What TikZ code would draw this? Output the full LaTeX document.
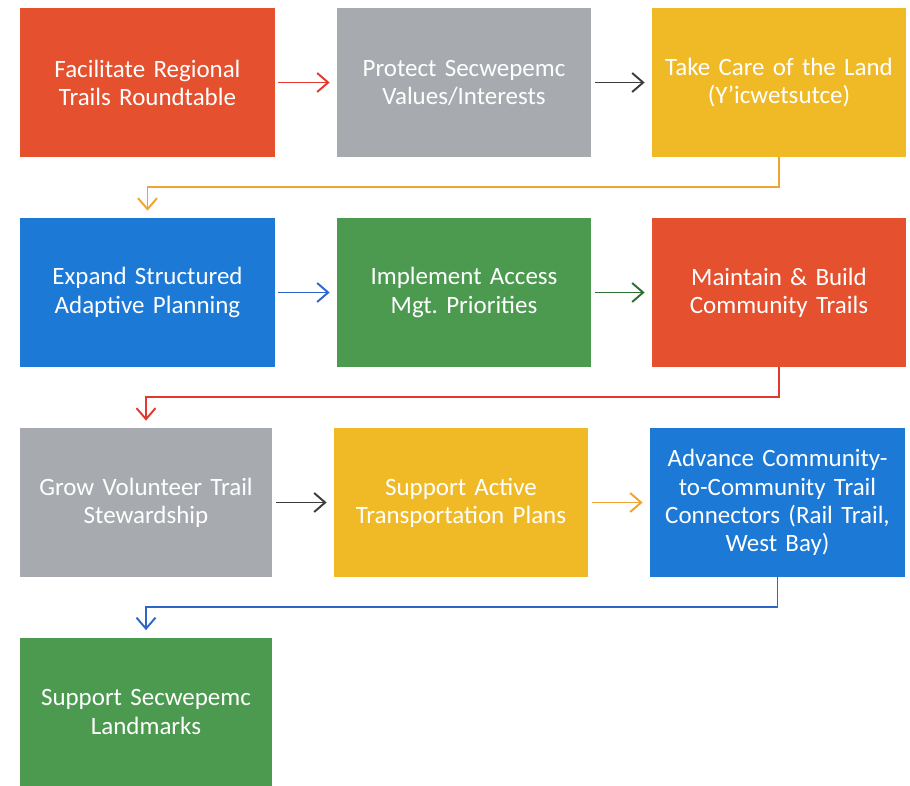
\documentclass[tikz,border=0pt]{standalone}
\usepackage{fontspec}
\setmainfont{Carlito}
\usetikzlibrary{arrows.meta}

\definecolor{boxred}{HTML}{E5512F}
\definecolor{boxgray}{HTML}{A7ABAF}
\definecolor{boxyellow}{HTML}{F0B926}
\definecolor{boxblue}{HTML}{1C79D5}
\definecolor{boxgreen}{HTML}{4C9A50}
\definecolor{arrred}{HTML}{E2382E}
\definecolor{arrgray}{HTML}{3C3C3C}
\definecolor{arrorange}{HTML}{F0A232}
\definecolor{arrblue}{HTML}{2E66C8}
\definecolor{arrgreen}{HTML}{2E6E34}

\tikzset{
  stage/.style={rectangle, minimum width=5.08cm, minimum height=2.98cm, text width=4.9cm,
    align=center, text=white, font=\fontsize{14.2}{16}\selectfont, inner sep=0pt},
  flow/.style={line width=1.1pt, -{Straight Barb[length=2.2mm,width=3.8mm]}, shorten <=2pt, shorten >=4pt}
}

\begin{document}
\begin{tikzpicture}[x=1cm,y=1cm]
\useasboundingbox (0,0) rectangle (18.2,-15.72);

\node[stage, fill=boxred] (fac) at (2.95,-1.65) {Facilitate Regional\\Trails Roundtable};
\node[stage, fill=boxgray] (pro) at (9.28,-1.65) {Protect Secwepemc\\Values/Interests};
\node[stage, fill=boxyellow] (land) at (15.58,-1.65) {Take Care of the Land\\(Y'icwetsutce)};

\node[stage, fill=boxblue] (exp) at (2.95,-5.85) {Expand Structured\\Adaptive Planning};
\node[stage, fill=boxgreen] (imp) at (9.28,-5.85) {Implement Access\\Mgt.\ Priorities};
\node[stage, fill=boxred] (mnt) at (15.58,-5.85) {Maintain \& Build\\Community Trails};

\node[stage, fill=boxgray, minimum width=5.04cm] (grow) at (2.92,-10.05) {Grow Volunteer Trail\\Stewardship};
\node[stage, fill=boxyellow] (act) at (9.22,-10.05) {Support Active\\Transportation Plans};
\node[stage, fill=boxblue, minimum width=5.1cm] (adv) at (15.55,-10.05) {Advance Community-\\to-Community Trail\\Connectors (Rail Trail,\\West Bay)};

\node[stage, fill=boxgreen, minimum width=5.04cm] (mark) at (2.92,-14.24) {Support Secwepemc\\Landmarks};

% row arrows
\draw[flow, arrred] (fac) -- (pro);
\draw[flow, arrgray] (pro) -- (land);
\draw[flow, arrblue] (exp) -- (imp);
\draw[flow, arrgreen] (imp) -- (mnt);
\draw[flow, arrgray] (grow) -- (act);
\draw[flow, arrorange] (act) -- (adv);

% turns to the next row
\draw[flow, arrorange, shorten <=0pt] (land.south) -- ++(0,-0.6) -| (exp.north);
\draw[flow, arrred, shorten <=0pt] (mnt.south) -- ++(0,-0.6) -| (grow.north);
\draw[flow, arrblue, shorten <=0pt] (adv.south) -- ++(0,-0.6) -| (mark.north);
\end{tikzpicture}
\end{document}
